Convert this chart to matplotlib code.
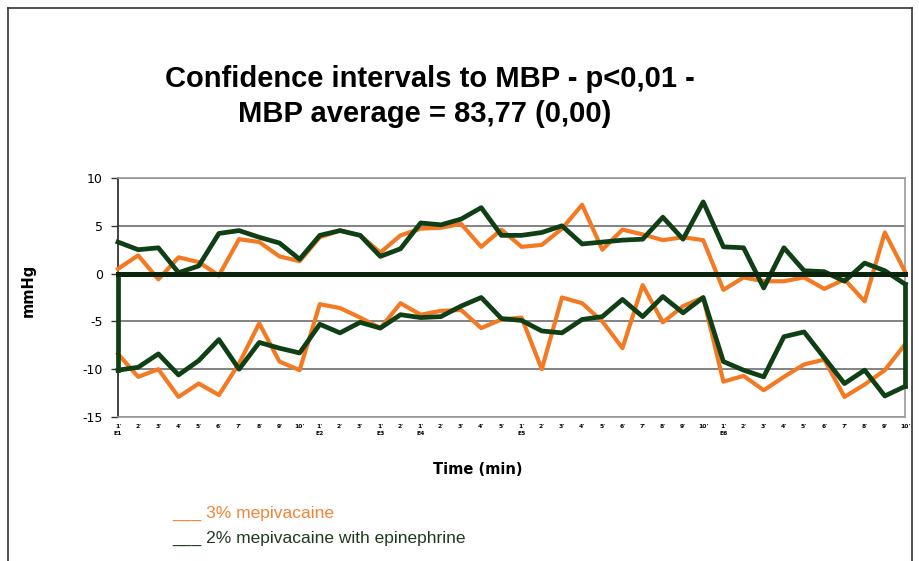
import matplotlib
matplotlib.use('Agg')
import matplotlib.pyplot as plt
from matplotlib.lines import Line2D

# Grupos e minutos do eixo x
grupos = ['E1', 'E2', 'E3', 'E4', 'E5', 'E6']
minutos_por_grupo = [10, 3, 2, 5, 10, 10]

# Limites dos intervalos de confianca (mmHg)
laranja_sup = [0.5, 1.9, -0.6, 1.7, 1.2, -0.2, 3.6, 3.3, 1.8, 1.3,
               3.8, 4.5, 4.0, 2.2, 4.0, 4.7, 4.8, 5.2, 2.8, 4.6,
               2.8, 3.0, 4.7, 7.2, 2.5, 4.6, 4.1, 3.5, 3.8, 3.5,
               -1.7, -0.4, -0.8, -0.8, -0.4, -1.6, -0.6, -2.9, 4.3, 0.2]
laranja_inf = [-8.4, -10.8, -10.0, -12.9, -11.5, -12.7, -9.4, -5.2, -9.2, -10.1,
               -3.2, -3.6, -4.6, -5.7, -3.1, -4.3, -3.9, -3.8, -5.7, -4.8,
               -4.6, -10.0, -2.5, -3.1, -5.0, -7.8, -1.2, -5.1, -3.4, -2.5,
               -11.3, -10.7, -12.2, -10.8, -9.5, -9.0, -12.9, -11.6, -10.1, -7.4]
verde_sup = [3.3, 2.5, 2.7, 0.1, 0.8, 4.2, 4.5, 3.8, 3.2, 1.5,
             4.0, 4.5, 4.0, 1.8, 2.6, 5.3, 5.1, 5.7, 6.9, 4.0,
             4.0, 4.3, 5.0, 3.1, 3.3, 3.5, 3.6, 5.9, 3.6, 7.5,
             2.8, 2.7, -1.5, 2.7, 0.3, 0.2, -0.8, 1.1, 0.3, -1.1]
verde_inf = [-10.1, -9.8, -8.4, -10.6, -9.1, -6.9, -10.0, -7.2, -7.8, -8.3,
             -5.3, -6.2, -5.1, -5.7, -4.3, -4.6, -4.5, -3.4, -2.5, -4.7,
             -4.9, -6.0, -6.2, -4.8, -4.5, -2.7, -4.5, -2.4, -4.1, -2.5,
             -9.2, -10.1, -10.8, -6.6, -6.1, -8.8, -11.5, -10.1, -12.8, -11.8]

rotulos = []
for g, n in zip(grupos, minutos_por_grupo):
    for m in range(1, n + 1):
        rotulos.append(f"{m}'\n{g}" if m == 1 else f"{m}'")
x = list(range(len(rotulos)))

cor_laranja = '#F37A22'
cor_verde = '#0F3F14'
cor_zero = '#0A250B'

fig = plt.figure(figsize=(9.19, 5.61), dpi=100)
ax = fig.add_axes([118 / 919, 1 - 417 / 561, 787 / 919, 239 / 561])

ax.plot(x, laranja_sup, color=cor_laranja, lw=3.0, clip_on=False, zorder=3)
ax.plot(x, laranja_inf, color=cor_laranja, lw=3.0, clip_on=False, zorder=3)
ax.plot(x, verde_sup, color=cor_verde, lw=3.4, clip_on=False, zorder=4)
ax.plot(x, verde_inf, color=cor_verde, lw=3.4, clip_on=False, zorder=4)
ax.plot([x[0], x[0]], [0, verde_inf[0]], color=cor_verde, lw=3.4, clip_on=False, zorder=4)
ax.plot([x[-1], x[-1]], [verde_sup[-1], verde_inf[-1]], color=cor_verde, lw=3.4, clip_on=False, zorder=4)
ax.plot([x[0], x[-1]], [0, 0], color=cor_zero, lw=3.6, clip_on=False, zorder=5)

ax.set_xlim(0, len(x) - 1)
ax.set_ylim(-15, 10)
ax.set_yticks([-15, -10, -5, 0, 5, 10])
ax.set_yticklabels(['-15', '-10', '-5', '0', '5', '10'], fontsize=9)
ax.set_xticks(x)
ax.set_xticklabels(rotulos, fontsize=4.3, fontweight='bold', va='top', linespacing=1.6)
ax.tick_params(axis='x', length=0, pad=5)
ax.tick_params(axis='y', length=5, width=1, color='#333333', pad=6)
ax.grid(axis='y', color='#7a7a7a', lw=1.3)
ax.set_axisbelow(True)
for lado in ['top', 'right', 'bottom']:
    ax.spines[lado].set_color('#9a9a9a')
    ax.spines[lado].set_linewidth(1.2)
ax.spines['left'].set_color('#333333')
ax.spines['left'].set_linewidth(1.3)

fig.text(28 / 919, 1 - 290 / 561, 'mmHg', rotation=90, fontsize=10.5, fontweight='bold',
         ha='center', va='center')
fig.text(478 / 919, 1 - 469 / 561, 'Time (min)', fontsize=10.5, fontweight='bold',
         ha='center', va='center')

fig.text(430 / 919, 1 - 79 / 561, 'Confidence intervals to MBP - p<0,01 -', fontsize=21,
         fontweight='bold', ha='center', va='center', family='Liberation Sans')
fig.text(425 / 919, 1 - 114 / 561, 'MBP average = 83,77 (0,00)', fontsize=21,
         fontweight='bold', ha='center', va='center', family='Liberation Sans')

fig.text(172 / 919, 1 - 513 / 561, '___ 3% mepivacaine', fontsize=12.5, color='#F08536',
         ha='left', va='center', family='Liberation Sans')
fig.text(172 / 919, 1 - 538 / 561, '___ 2% mepivacaine with epinephrine', fontsize=12.5,
         color='#1F3A1F', ha='left', va='center', family='Liberation Sans')

# moldura externa
for xs, ys in [([8, 8], [8, 570]), ([8, 912], [8, 8]), ([912, 912], [8, 570])]:
    fig.add_artist(Line2D([v / 919 for v in xs], [1 - v / 561 for v in ys],
                          color='#333333', lw=1.2))

plt.savefig('out.png', dpi=100)
